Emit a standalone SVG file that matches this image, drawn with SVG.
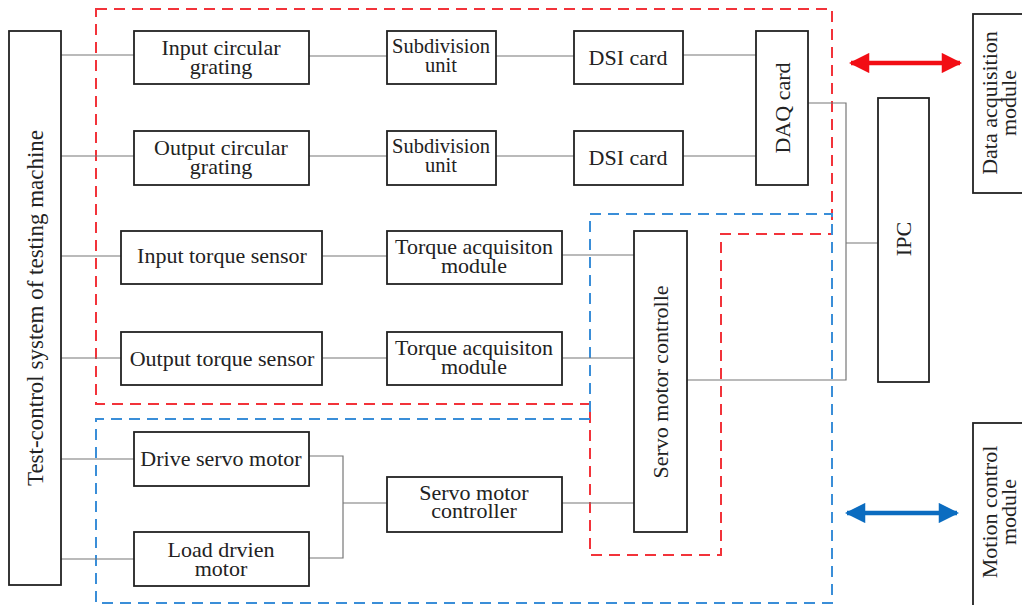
<svg xmlns="http://www.w3.org/2000/svg" width="1022" height="605" viewBox="0 0 1022 605">
<style>
.box{fill:#fff;stroke:#222;stroke-width:1.8}
.ln{fill:none;stroke:#777;stroke-width:1.2}
.rd{fill:none;stroke:#f2333a;stroke-width:2;stroke-dasharray:11 7}
.bd{fill:none;stroke:#3a8ed8;stroke-width:2;stroke-dasharray:11 7}
text{font-family:"Liberation Serif","Times New Roman",serif;font-size:22px;fill:#222;text-anchor:middle}
.sm{font-size:20.5px}
</style>
<defs>
<marker id="ar" viewBox="0 0 10 10" refX="9" refY="5" markerWidth="6" markerHeight="4.5" orient="auto-start-reverse" markerUnits="strokeWidth"><path d="M0,0L10,5L0,10z" fill="#f20d14"/></marker>
<marker id="ab" viewBox="0 0 10 10" refX="9" refY="5" markerWidth="6" markerHeight="4.5" orient="auto-start-reverse" markerUnits="strokeWidth"><path d="M0,0L10,5L0,10z" fill="#0b6cc0"/></marker>
</defs>
<g id="regions">
<path class="rd" d="M96,9H832V234H721V555H590V404H96Z"/>
<path class="bd" d="M590,214H832V603H96V419H590Z"/>
</g>
<g id="connectors">
<path class="ln" d="M61,55H134M309,56H387M496,56H574M683,55H756"/>
<path class="ln" d="M61,156H134M309,156H387M496,156H574M683,156H756"/>
<path class="ln" d="M61,256H121M322,256H387M562,255H634"/>
<path class="ln" d="M61,358H121M322,358H387M562,358H634"/>
<path class="ln" d="M61,459H134M61,559H134M309,456H343V558H309M343,503H387M562,503H634"/>
<path class="ln" d="M808,103H846V380H687M846,243H878"/>
<line x1="851" y1="63" x2="960" y2="63" stroke="#f20d14" stroke-width="4.5" marker-start="url(#ar)" marker-end="url(#ar)"/>
<line x1="847" y1="513" x2="957" y2="513" stroke="#0b6cc0" stroke-width="4.5" marker-start="url(#ab)" marker-end="url(#ab)"/>
</g>
<g id="test-control"><rect class="box" x="9" y="31" width="52" height="554"/><text transform="translate(43,308) rotate(-90)" style="font-size:23px">Test-control system of testing machine</text></g>
<g id="input-grating"><rect class="box" x="134" y="31" width="175" height="53"/><text x="221" y="55">Input circular<tspan x="221" dy="19">grating</tspan></text></g>
<g id="output-grating"><rect class="box" x="134" y="131" width="175" height="54"/><text x="221" y="155">Output circular<tspan x="221" dy="19">grating</tspan></text></g>
<g id="subdiv1"><rect class="box" x="387" y="31" width="109" height="53"/><text class="sm" x="441" y="53">Subdivision<tspan x="441" dy="19">unit</tspan></text></g>
<g id="subdiv2"><rect class="box" x="387" y="131" width="109" height="54"/><text class="sm" x="441" y="153">Subdivision<tspan x="441" dy="19">unit</tspan></text></g>
<g id="dsi1"><rect class="box" x="574" y="31" width="109" height="53"/><text x="628" y="65">DSI card</text></g>
<g id="dsi2"><rect class="box" x="574" y="131" width="109" height="54"/><text x="628" y="165">DSI card</text></g>
<g id="daq"><rect class="box" x="756" y="31" width="52" height="154"/><text transform="translate(790,108) rotate(-90)">DAQ card</text></g>
<g id="ipc"><rect class="box" x="878" y="98" width="51" height="284"/><text transform="translate(911,239) rotate(-90)">IPC</text></g>
<g id="daq-module"><rect class="box" x="973" y="14" width="60" height="179"/><text transform="translate(997,103) rotate(-90)">Data acquisition<tspan x="0" dy="19">module</tspan></text></g>
<g id="motion-module"><rect class="box" x="973" y="423" width="60" height="200"/><text transform="translate(997,512) rotate(-90)">Motion control<tspan x="0" dy="19">module</tspan></text></g>
<g id="input-torque"><rect class="box" x="121" y="231" width="201" height="53"/><text x="222" y="263">Input torque sensor</text></g>
<g id="output-torque"><rect class="box" x="121" y="332" width="201" height="53"/><text x="222" y="366">Output torque sensor</text></g>
<g id="torque-acq1"><rect class="box" x="387" y="231" width="175" height="53"/><text x="474" y="254">Torque acquisiton<tspan x="474" dy="19">module</tspan></text></g>
<g id="torque-acq2"><rect class="box" x="387" y="332" width="175" height="53"/><text x="474" y="355">Torque acquisiton<tspan x="474" dy="19">module</tspan></text></g>
<g id="servo-vertical"><rect class="box" x="634" y="231" width="53" height="301"/><text transform="translate(668,382) rotate(-90)">Servo motor controlle</text></g>
<g id="drive-servo"><rect class="box" x="134" y="432" width="175" height="54"/><text x="221" y="466">Drive servo motor</text></g>
<g id="load-motor"><rect class="box" x="134" y="532" width="175" height="54"/><text x="221" y="557">Load drvien<tspan x="221" dy="19">motor</tspan></text></g>
<g id="servo-ctrl"><rect class="box" x="387" y="477" width="175" height="55"/><text x="474" y="500">Servo motor<tspan x="474" dy="18">controller</tspan></text></g>
</svg>
